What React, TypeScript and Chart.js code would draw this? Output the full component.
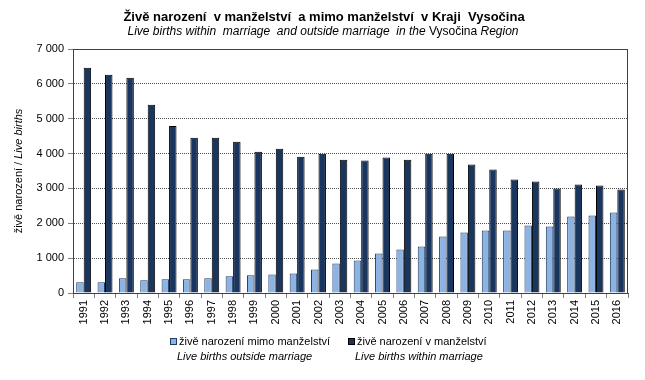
import React, { useEffect, useRef } from "react";
import { Chart, registerables } from "chart.js";

Chart.register(...registerables);

const years = ["1991","1992","1993","1994","1995","1996","1997","1998","1999","2000","2001","2002","2003","2004","2005","2006","2007","2008","2009","2010","2011","2012","2013","2014","2015","2016"];
const outsideMarriage = [305,305,420,363,391,391,420,477,506,534,563,677,849,935,1135,1250,1336,1622,1737,1794,1794,1937,1908,2195,2223,2309];
const withinMarriage = [6460,6260,6174,5401,4790,4456,4456,4342,4055,4141,3912,3998,3826,3798,3884,3826,3998,3998,3683,3540,3254,3197,2996,3111,3082,2968];
const yTicks = [0,1000,2000,3000,4000,5000,6000,7000];

const titleText = "Živě narození  v manželství  a mimo manželství  v Kraji  Vysočina";
const subtitleParts: [string, boolean][] = [["Live births within  marriage  and outside marriage  in the ", true], ["Vysočina ", false], ["Region", true]];
const yTitleParts: [string, boolean][] = [["živě narození / ", false], ["Live births", true]];
const legendMain = ["živě narození mimo manželství", "živě narození v manželství"];
const legendSub = ["Live births outside marriage", "Live births within marriage"];

const FONT = "'Liberation Sans', Arial, sans-serif";
const LIGHT = "#8DB3E2";
const LIGHT_BORDER = "#1F3B64";
const DARK = "#1B365E";
const DARK_BORDER = "#000000";

function drawParts(ctx: CanvasRenderingContext2D, parts: [string, boolean][], size: number, cx: number, cy: number) {
  let total = 0;
  for (const [t, it] of parts) {
    ctx.font = `${it ? "italic " : ""}${size}px ${FONT}`;
    total += ctx.measureText(t).width;
  }
  let x = cx - total / 2;
  ctx.textBaseline = "middle";
  ctx.textAlign = "left";
  for (const [t, it] of parts) {
    ctx.font = `${it ? "italic " : ""}${size}px ${FONT}`;
    ctx.fillText(t, x, cy);
    x += ctx.measureText(t).width;
  }
}

const decorPlugin = {
  id: "decor",
  afterDraw(chart: any) {
    const ctx: CanvasRenderingContext2D = chart.ctx;
    const a = chart.chartArea;
    ctx.save();
    ctx.strokeStyle = "#404040";
    ctx.lineWidth = 1;
    ctx.setLineDash([]);
    ctx.strokeRect(Math.round(a.left) + 0.5, Math.round(a.top) + 0.5, Math.round(a.right - a.left) - 1, Math.round(a.bottom - a.top));
    ctx.fillStyle = "#000";
    ctx.textAlign = "center";
    ctx.textBaseline = "middle";
    ctx.font = `bold 13px ${FONT}`;
    ctx.fillText(titleText, 324, 17);
    drawParts(ctx, subtitleParts, 12, 323, 32);
    ctx.save();
    ctx.translate(19, (a.top + a.bottom) / 2);
    ctx.rotate(-Math.PI / 2);
    drawParts(ctx, yTitleParts, 11, 0, 0);
    ctx.restore();
    const items = [
      { x: 170, fill: LIGHT, border: LIGHT_BORDER },
      { x: 348, fill: DARK, border: DARK_BORDER },
    ];
    items.forEach((it, i) => {
      ctx.fillStyle = it.fill;
      ctx.fillRect(it.x, 338, 6, 6);
      ctx.strokeStyle = it.border;
      ctx.strokeRect(it.x + 0.5, 338.5, 6, 6);
      ctx.fillStyle = "#000";
      ctx.textAlign = "left";
      ctx.textBaseline = "middle";
      ctx.font = `11px ${FONT}`;
      ctx.fillText(legendMain[i], it.x + 9, 342);
      ctx.font = `italic 11px ${FONT}`;
      ctx.fillText(legendSub[i], it.x + 7, 357);
    });
    ctx.restore();
  },
};

export default function App() {
  const ref = useRef<HTMLCanvasElement | null>(null);
  useEffect(() => {
    document.body.style.margin = "0";
    const canvas = ref.current;
    if (!canvas) return;
    const chart = new Chart(canvas, {
      type: "bar",
      data: {
        labels: years,
        datasets: [
          { label: legendMain[0], data: outsideMarriage, backgroundColor: LIGHT, borderColor: LIGHT_BORDER, borderWidth: 1 },
          { label: legendMain[1], data: withinMarriage, backgroundColor: DARK, borderColor: DARK_BORDER, borderWidth: 1 },
        ],
      },
      options: {
        animation: false,
        responsive: true,
        maintainAspectRatio: false,
        datasets: { bar: { barPercentage: 1, categoryPercentage: 0.7 } },
        layout: { padding: { top: 49, right: 17, left: 0, bottom: 52 } },
        plugins: { legend: { display: false }, title: { display: false }, tooltip: { enabled: false } },
        scales: {
          x: {
            afterFit(scale: any) { scale.height = 35; },
            grid: { offset: true, drawOnChartArea: false, drawTicks: true, tickLength: 5, tickColor: "#808080" },
            border: { display: true, color: "#404040" },
            ticks: { minRotation: 90, maxRotation: 90, autoSkip: false, color: "#000", padding: 2, font: { family: FONT, size: 11 } },
          },
          y: {
            min: 0,
            max: 7000,
            afterFit(scale: any) { scale.width = 73; },
            afterBuildTicks(scale: any) { scale.ticks = yTicks.map((v) => ({ value: v })); },
            grid: {
              color: (c: any) => (c.tick && (c.tick.value === 0 || c.tick.value === 7000) ? "rgba(0,0,0,0)" : "#505050"),
              tickBorderDash: [1, 0],
              tickColor: "#808080",
              tickLength: 5,
            },
            border: { display: true, color: "#404040", dash: [1, 1] },
            ticks: {
              color: "#000",
              padding: 4,
              font: { family: FONT, size: 11 },
              callback: (v: any) => String(v).replace(/\B(?=(\d{3})+(?!\d))/g, " "),
            },
          },
        },
      },
      plugins: [decorPlugin],
    });
    return () => chart.destroy();
  }, []);
  return (
    <div style={{ width: 645, height: 380, position: "relative" }}>
      <canvas ref={ref} />
    </div>
  );
}
